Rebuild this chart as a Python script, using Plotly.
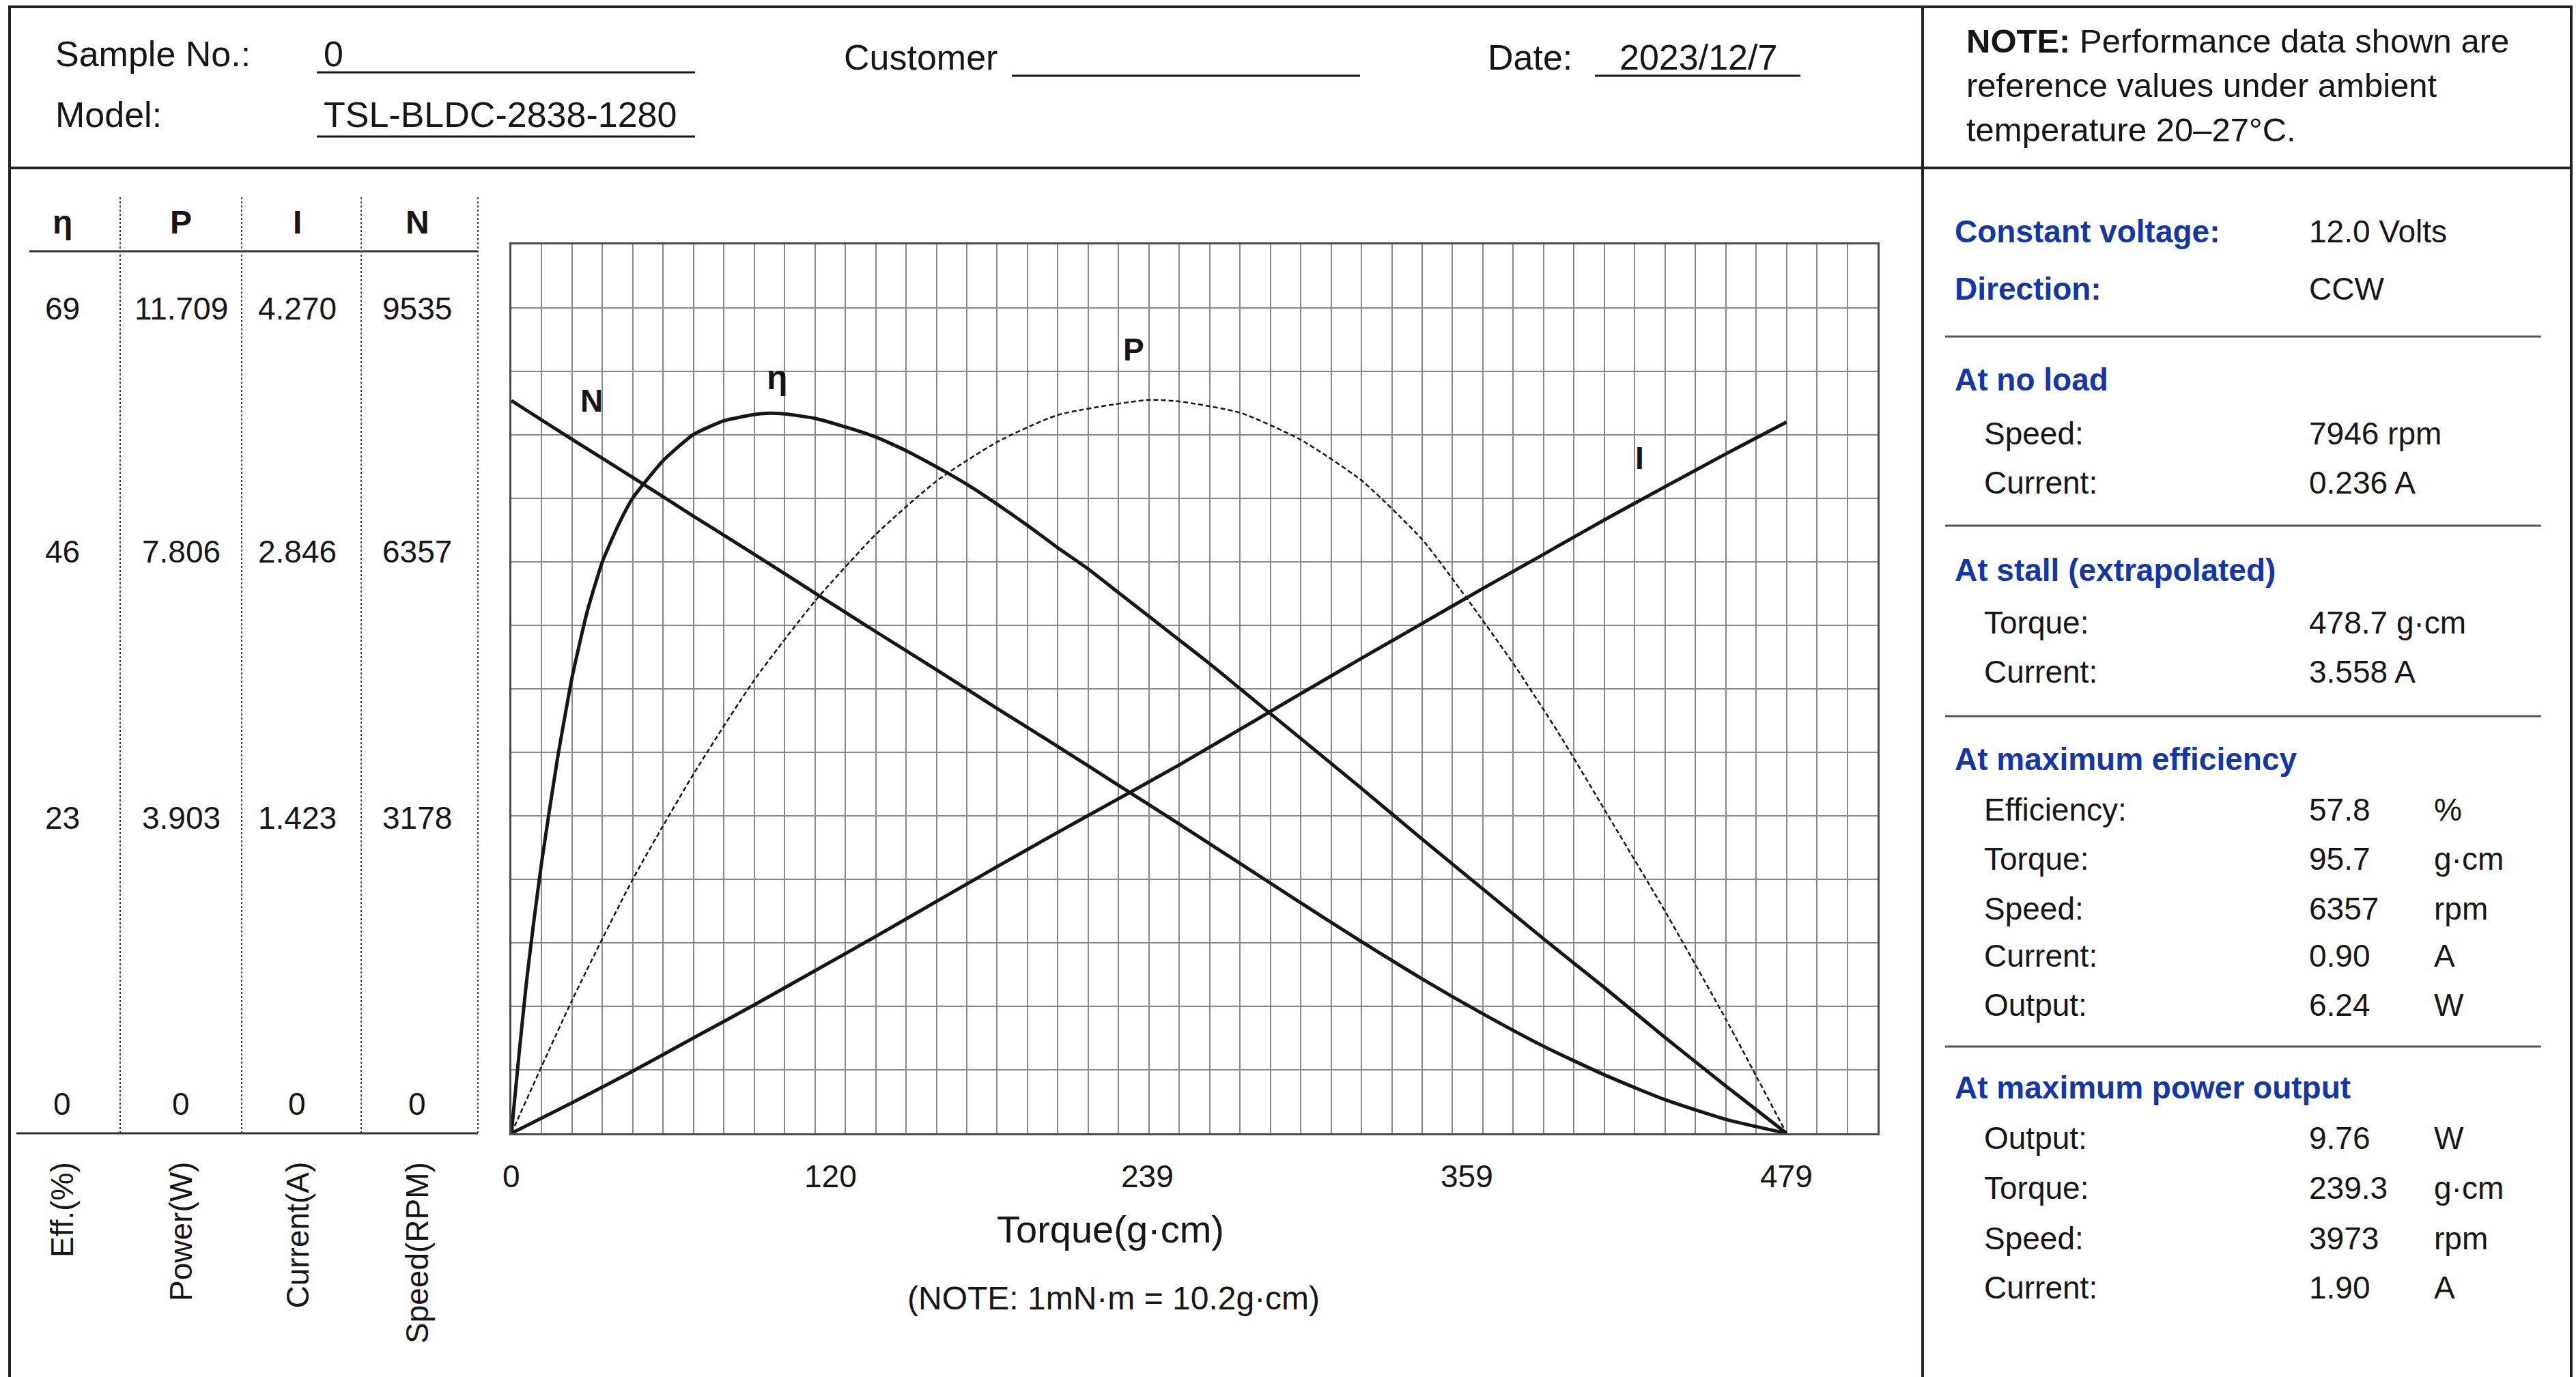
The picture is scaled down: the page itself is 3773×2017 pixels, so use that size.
import plotly.graph_objects as go

# ---------------- data ----------------
TORQUE_ETA = [0, 2.9, 5.7, 8.6, 11.4, 17.1, 22.8, 28.5, 34.2, 39.9, 45.6, 57.0, 68.4, 79.8,
              91.2, 95.7, 102.6, 114.0, 125.5, 136.9, 148.3, 159.7, 171.1, 182.5, 193.9,
              205.3, 216.7, 228.1, 239.5, 250.9, 262.3, 273.7, 296.5, 319.3, 342.2, 365.0,
              387.8, 410.6, 433.3, 456.2, 479.0]
EFFICIENCY = [0, 6.4, 12.2, 17.3, 21.8, 29.8, 36.6, 41.9, 45.9, 48.7, 51.0, 54.0, 56.1, 57.2,
              57.7, 57.8, 57.75, 57.4, 56.7, 55.9, 54.8, 53.5, 52.1, 50.5, 48.8,
              47.0, 45.3, 43.4, 41.5, 39.6, 37.7, 35.7, 31.7, 27.7, 23.6, 19.6,
              15.6, 11.7, 7.7, 3.8, 0]

TORQUE_P = [0, 22.8, 45.6, 68.4, 91.2, 114.0, 136.9, 159.7, 182.5, 205.3, 239.3, 250.9,
            273.7, 296.5, 319.3, 342.2, 359.3, 376.4, 393.5, 410.6, 433.3, 456.2, 479.0]
POWER = [0, 1.77, 3.38, 4.78, 6.03, 7.08, 7.97, 8.68, 9.20, 9.56, 9.76, 9.74,
         9.59, 9.23, 8.69, 7.90, 7.10, 6.25, 5.32, 4.31, 2.96, 1.52, 0]

TORQUE_IN = [0, 22.8, 45.6, 68.4, 91.2, 114.0, 136.9, 159.7, 182.5, 205.3, 228.1, 250.9,
             273.7, 296.5, 319.3, 342.2, 365.0, 387.8, 410.6, 433.3, 456.2, 479.0]
CURRENT = [0, 0.153, 0.311, 0.477, 0.642, 0.813, 0.985, 1.160, 1.334, 1.506, 1.674, 1.843,
           2.021, 2.199, 2.376, 2.551, 2.726, 2.897, 3.069, 3.234, 3.399, 3.558]
SPEED = [7946, 7526, 7113, 6693, 6280, 5860, 5440, 5027, 4607, 4194, 3774, 3353,
         2927, 2500, 2080, 1673, 1295, 943, 634, 365, 151, 0]

X_TICKS = [0, 120, 239, 359, 479]

TABLE_HEAD = ["η", "P", "I", "N"]
TABLE_ROWS = [
    ["69", "11.709", "4.270", "9535"],
    ["46", "7.806", "2.846", "6357"],
    ["23", "3.903", "1.423", "3178"],
    ["0", "0", "0", "0"],
]
TABLE_UNITS = ["Eff.(%)", "Power(W)", "Current(A)", "Speed(RPM)"]

HEADER = {"sample": "0", "model": "TSL-BLDC-2838-1280", "customer": "", "date": "2023/12/7"}

SPEC_TOP = [
    ("Constant voltage:", "12.0 Volts"),
    ("Direction:", "CCW"),
]
SPEC_GROUPS = [
    ("At no load", [("Speed:", "7946 rpm", ""), ("Current:", "0.236 A", "")]),
    ("At stall (extrapolated)", [("Torque:", "478.7 g·cm", ""), ("Current:", "3.558 A", "")]),
    ("At maximum efficiency", [("Efficiency:", "57.8", "%"), ("Torque:", "95.7", "g·cm"),
                               ("Speed:", "6357", "rpm"), ("Current:", "0.90", "A"),
                               ("Output:", "6.24", "W")]),
    ("At maximum power output", [("Output:", "9.76", "W"), ("Torque:", "239.3", "g·cm"),
                                 ("Speed:", "3973", "rpm"), ("Current:", "1.90", "A")]),
]

# ---------------- styling / geometry ----------------
W, H = 3773, 2017
FONT = "Liberation Sans, Arial, Helvetica, sans-serif"
INK = "#161616"
BLUE = "#1537a6"
GRID = "#8a8a8a"
BORDER = "#4a4a4a"

STALL = 479.0
X_STEP = STALL / 42.0          # one vertical grid cell
X_MAX = X_STEP * 45
N_ROWS = 14
ETA_TOP = 71.36
P_TOP = 11.83
I_TOP = 4.447
N_TOP = 9640

PL, PR, PT, PB = 749, 2750, 358, 1660


def fx(px):
    return px / W


def fy(py):
    return 1 - py / H


fig = go.Figure()

fig.add_trace(go.Scatter(x=TORQUE_ETA, y=EFFICIENCY, mode="lines", yaxis="y",
                         line=dict(color=INK, width=5, shape="spline", smoothing=0.5),
                         hoverinfo="skip", showlegend=False))
fig.add_trace(go.Scatter(x=TORQUE_P, y=POWER, mode="lines", yaxis="y2",
                         line=dict(color=INK, width=2.5, dash="7px,4px", shape="spline", smoothing=0.6),
                         hoverinfo="skip", showlegend=False))
fig.add_trace(go.Scatter(x=TORQUE_IN, y=CURRENT, mode="lines", yaxis="y3",
                         line=dict(color=INK, width=5, shape="spline", smoothing=0.6),
                         hoverinfo="skip", showlegend=False))
fig.add_trace(go.Scatter(x=TORQUE_IN, y=SPEED, mode="lines", yaxis="y4",
                         line=dict(color=INK, width=5, shape="spline", smoothing=0.6),
                         hoverinfo="skip", showlegend=False))

shapes = []


def hline(x0, x1, y, width=3, color=INK, dash=None):
    d = dict(type="line", xref="paper", yref="paper", x0=fx(x0), x1=fx(x1), y0=fy(y), y1=fy(y),
             line=dict(color=color, width=width))
    if dash:
        d["line"]["dash"] = dash
    shapes.append(d)


def vline(x, y0, y1, width=3, color=INK, dash=None):
    d = dict(type="line", xref="paper", yref="paper", x0=fx(x), x1=fx(x), y0=fy(y0), y1=fy(y1),
             line=dict(color=color, width=width))
    if dash:
        d["line"]["dash"] = dash
    shapes.append(d)


# outer frame
shapes.append(dict(type="rect", xref="paper", yref="paper", x0=fx(14), x1=fx(3766), y0=fy(2040), y1=fy(10),
                   line=dict(color="#222222", width=4), fillcolor="rgba(0,0,0,0)", layer="above"))
hline(14, 3766, 246, width=4, color="#222222")
vline(2816, 10, 2040, width=4, color="#222222")

# header underlines
hline(464, 1018, 106, width=3)
hline(464, 1018, 200, width=3)
hline(1482, 1992, 111, width=3)
hline(2336, 2637, 111, width=3)

# left table
hline(43, 700, 368, width=3, color="#333333")
for xx in [176, 354, 529, 700]:
    vline(xx, 289, 1660, width=2, color="#444444", dash="dot")
hline(24, 700, 1660, width=3, color="#333333")

# right panel separators
for yy in [493, 770, 1049, 1533]:
    hline(2849, 3722, yy, width=3, color="#555555")

ann = []


def text(x, y, s, size=46, color=INK, xanchor="left", yanchor="middle", angle=0, xref="paper"):
    ann.append(dict(x=x if xref != "paper" else fx(x), y=fy(y), xref=xref, yref="paper", text=s,
                    showarrow=False, xanchor=xanchor, yanchor=yanchor, textangle=angle,
                    font=dict(family=FONT, size=size, color=color)))


# header
text(79, 79, "Sample No.:", 52)
text(472, 79, HEADER["sample"], 52)
text(79, 168, "Model:", 52)
text(472, 168, HEADER["model"], 52)
text(1234, 84, "Customer", 52)
text(2177, 84, "Date:", 52)
text(2370, 84, HEADER["date"], 52)

# note
text(2878, 60, "<b>NOTE:</b> Performance data shown are", 49)
text(2878, 125, "reference values under ambient", 49)
text(2878, 190, "temperature 20–27°C.", 49)

# table
col_x = [91, 265, 435, 611]
for cx, h in zip(col_x, TABLE_HEAD):
    text(cx, 325, "<b>%s</b>" % h, 48, xanchor="center")
row_y = [452, 808, 1198, 1617]
for ry, row in zip(row_y, TABLE_ROWS):
    for cx, v in zip(col_x, row):
        text(cx, ry, v, 46, xanchor="center")
for cx, u in zip(col_x, TABLE_UNITS):
    text(cx, 1700, u, 46, xanchor="center", yanchor="top", angle=-90)

# x tick labels via the x scale
for v in X_TICKS:
    text(v, 1723, str(v), 46, xanchor="center", xref="x")
text(1626, 1800, "Torque(g·cm)", 56, xanchor="center")
text(1631, 1901, "(NOTE: 1mN·m = 10.2g·cm)", 48, xanchor="center")

# curve labels
text(866, 587, "<b>N</b>", 46, xanchor="center")
text(1138, 553, "<b>η</b>", 50, xanchor="center")
text(1660, 512, "<b>P</b>", 46, xanchor="center")
text(2401, 671, "<b>I</b>", 46, xanchor="center")

# right panel
LX, SX, VX, UX = 2861, 2904, 3380, 3563
for (lab, val), yy in zip(SPEC_TOP, [339, 423]):
    text(LX, yy, "<b>%s</b>" % lab, 46, BLUE)
    text(VX, yy, val, 46)

group_y = [
    (556, [635, 707]),
    (835, [912, 984]),
    (1112, [1186, 1258, 1331, 1400, 1472]),
    (1593, [1667, 1740, 1814, 1886]),
]
for (title, items), (ty, iys) in zip(SPEC_GROUPS, group_y):
    text(LX, ty, "<b>%s</b>" % title, 46, BLUE)
    for (lab, val, unit), iy in zip(items, iys):
        text(SX, iy, lab, 46)
        text(VX, iy, val, 46)
        if unit:
            text(UX, iy, unit, 46)

fig.update_layout(
    width=W, height=H, margin=dict(l=0, r=0, t=0, b=0),
    paper_bgcolor="white", plot_bgcolor="white", showlegend=False,
    font=dict(family=FONT, color=INK),
    xaxis=dict(domain=[fx(PL), fx(PR)], range=[0, X_MAX], tick0=0, dtick=X_STEP,
               showticklabels=False, ticks="", showgrid=True, gridcolor=GRID, gridwidth=2,
               zeroline=False, showline=True, linecolor=BORDER, linewidth=3, mirror=True,
               fixedrange=True),
    yaxis=dict(domain=[fy(PB), fy(PT)], range=[0, ETA_TOP], tick0=0, dtick=ETA_TOP / N_ROWS,
               showticklabels=False, ticks="", showgrid=True, gridcolor=GRID, gridwidth=2,
               zeroline=False, showline=True, linecolor=BORDER, linewidth=3, mirror=True,
               fixedrange=True),
    yaxis2=dict(overlaying="y", range=[0, P_TOP], visible=False, fixedrange=True),
    yaxis3=dict(overlaying="y", range=[0, I_TOP], visible=False, fixedrange=True),
    yaxis4=dict(overlaying="y", range=[0, N_TOP], visible=False, fixedrange=True),
    shapes=shapes, annotations=ann,
)

fig.write_html("out.html", config={"displayModeBar": False},
               post_script="document.body.style.margin='0';document.body.style.overflow='hidden';")
